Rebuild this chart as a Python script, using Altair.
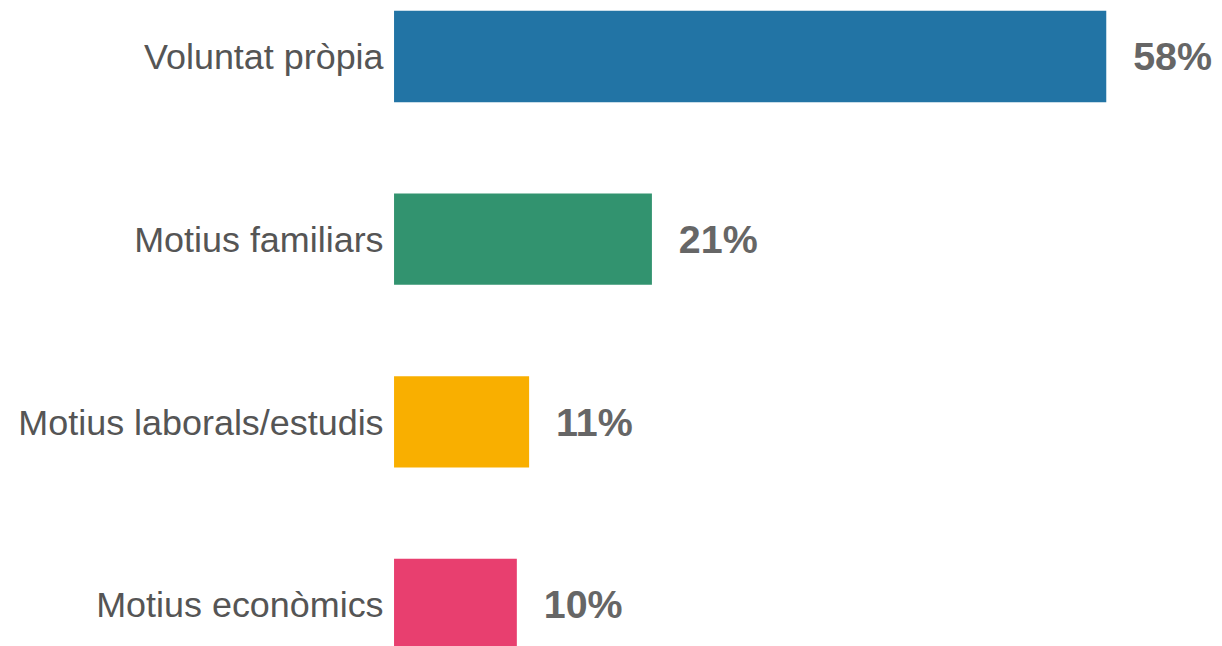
import altair as alt
import pandas as pd

categories = ["Voluntat pròpia", "Motius familiars", "Motius laborals/estudis", "Motius econòmics"]
values = [58, 21, 11, 10]
labels = ["58%", "21%", "11%", "10%"]
colors = ["#2274A5", "#32936F", "#F9AF00", "#E83F6F"]

df = pd.DataFrame({"cat": categories, "val": values, "lab": labels, "col": colors})

y = alt.Y("cat:N", sort=categories, title=None,
          scale=alt.Scale(paddingInner=0.5, paddingOuter=0.011),
          axis=alt.Axis(domain=False, ticks=False, labelFontSize=36, labelFont="Liberation Sans",
                        labelColor="#555555", labelPadding=11, labelLimit=400, labelOffset=2))
x = alt.X("val:Q", scale=alt.Scale(domain=[0, 58], nice=False), axis=None)

bars = alt.Chart(df).mark_bar().encode(
    x=x, y=y, color=alt.Color("col:N", scale=None)
)
text = alt.Chart(df).mark_text(align="left", baseline="middle", dx=27, dy=2, fontSize=39.5,
                               fontWeight="bold", font="Liberation Sans", color="#666666").encode(
    x=x, y=y, text="lab:N"
)

chart = (bars + text).properties(
    width=714, height=645,
    autosize=alt.AutoSizeParams(type="none"),
    padding={"left": 387, "top": 0, "right": 108, "bottom": 0},
).configure_view(stroke=None)

chart.save("out.html", embed_options={"renderer": "svg", "actions": False})
